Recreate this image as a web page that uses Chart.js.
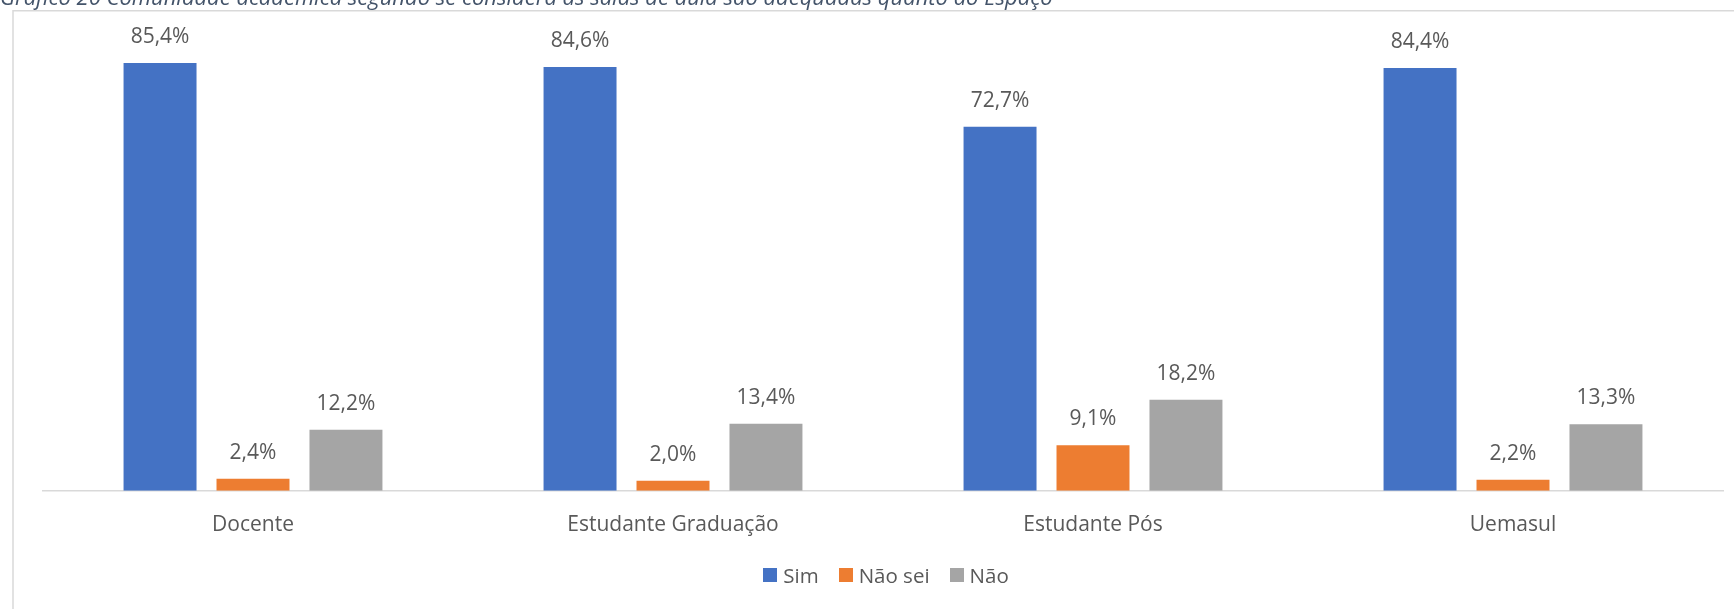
<!DOCTYPE html>
<html>
<head>
<meta charset="utf-8">
<script src="https://cdn.jsdelivr.net/npm/chart.js@4.4.1/dist/chart.umd.min.js"></script>
<style>
  html, body { margin: 0; padding: 0; background: #ffffff; }
  #wrap { position: relative; width: 1734px; height: 609px; overflow: hidden; }
  canvas { position: absolute; left: 0; top: 0; }
  #legend { position: absolute; left: 46px; width: 1680px; top: 561px; display: flex; justify-content: center; align-items: center;
            font-family: "Open Sans", sans-serif; font-size: 20.5px; color: #595959; }
  .item { display: flex; align-items: center; margin: 0 10px; }
  .box { width: 14px; height: 14px; margin-right: 6px; }
</style>
</head>
<body>
<div id="wrap">
  <canvas id="c" width="1734" height="609"></canvas>
  <div id="legend"></div>
</div>
<script>
const titleText = "Gráfico 20 Comunidade acadêmica segundo se considera as salas de aula são adequadas quanto ao Espaço";
const categories = ["Docente", "Estudante Graduação", "Estudante Pós", "Uemasul"];
const seriesNames = ["Sim", "Não sei", "Não"];
const simValues = [85.4, 84.6, 72.7, 84.4];
const naoSeiValues = [2.4, 2.0, 9.1, 2.2];
const naoValues = [12.2, 13.4, 18.2, 13.3];
const seriesColors = ["#4472C4", "#ED7D31", "#A5A5A5"];

const FONT = '"Open Sans", sans-serif';
const TEXT = '#595959';

const framePlugin = {
  id: 'frame',
  beforeDraw(chart) {
    const ctx = chart.ctx;
    ctx.save();
    ctx.fillStyle = '#ffffff';
    ctx.fillRect(0, 0, chart.width, chart.height);
    ctx.strokeStyle = '#d9d9d9';
    ctx.lineWidth = 1.5;
    ctx.beginPath();
    ctx.moveTo(13, 700);
    ctx.lineTo(13, 10.75);
    ctx.lineTo(1740, 10.75);
    ctx.stroke();
    ctx.fillStyle = '#44546A';
    ctx.font = 'italic 22px ' + FONT;
    ctx.textBaseline = 'alphabetic';
    ctx.textAlign = 'left';
    ctx.fillText(titleText, 0, 5);
    ctx.restore();
  }
};

const labelPlugin = {
  id: 'valueLabels',
  afterDatasetsDraw(chart) {
    const ctx = chart.ctx;
    ctx.save();
    ctx.font = '21px ' + FONT;
    ctx.fillStyle = TEXT;
    ctx.textAlign = 'center';
    ctx.textBaseline = 'middle';
    chart.data.datasets.forEach((ds, di) => {
      const meta = chart.getDatasetMeta(di);
      meta.data.forEach((bar, i) => {
        const v = ds.data[i];
        ctx.fillText(v.toFixed(1).replace('.', ',') + '%', bar.x, bar.y - 26);
      });
    });
    ctx.restore();
  }
};

const legendEl = document.getElementById('legend');
seriesNames.forEach((n, i) => {
  const it = document.createElement('div');
  it.className = 'item';
  const b = document.createElement('div');
  b.className = 'box';
  b.style.background = seriesColors[i];
  const t = document.createElement('span');
  t.textContent = n;
  it.appendChild(b); it.appendChild(t);
  legendEl.appendChild(it);
});

new Chart(document.getElementById('c'), {
  type: 'bar',
  data: {
    labels: categories,
    datasets: [
      { label: seriesNames[0], data: simValues, backgroundColor: seriesColors[0] },
      { label: seriesNames[1], data: naoSeiValues, backgroundColor: seriesColors[1] },
      { label: seriesNames[2], data: naoValues, backgroundColor: seriesColors[2] }
    ]
  },
  options: {
    responsive: false,
    animation: false,
    devicePixelRatio: 1,
    layout: { padding: { left: 43, right: 11, top: 40, bottom: 50.2 } },
    datasets: { bar: { categoryPercentage: 0.664, barPercentage: 0.785 } },
    plugins: { legend: { display: false }, tooltip: { enabled: false } },
    scales: {
      x: {
        grid: { display: false, drawTicks: false },
        border: { display: true, color: '#d9d9d9', width: 1.5 },
        ticks: { color: TEXT, font: { family: FONT, size: 21 }, padding: 21.4, maxRotation: 0 }
      },
      y: {
        display: false,
        min: 0,
        max: 90
      }
    }
  },
  plugins: [framePlugin, labelPlugin]
});
</script>
</body>
</html>
